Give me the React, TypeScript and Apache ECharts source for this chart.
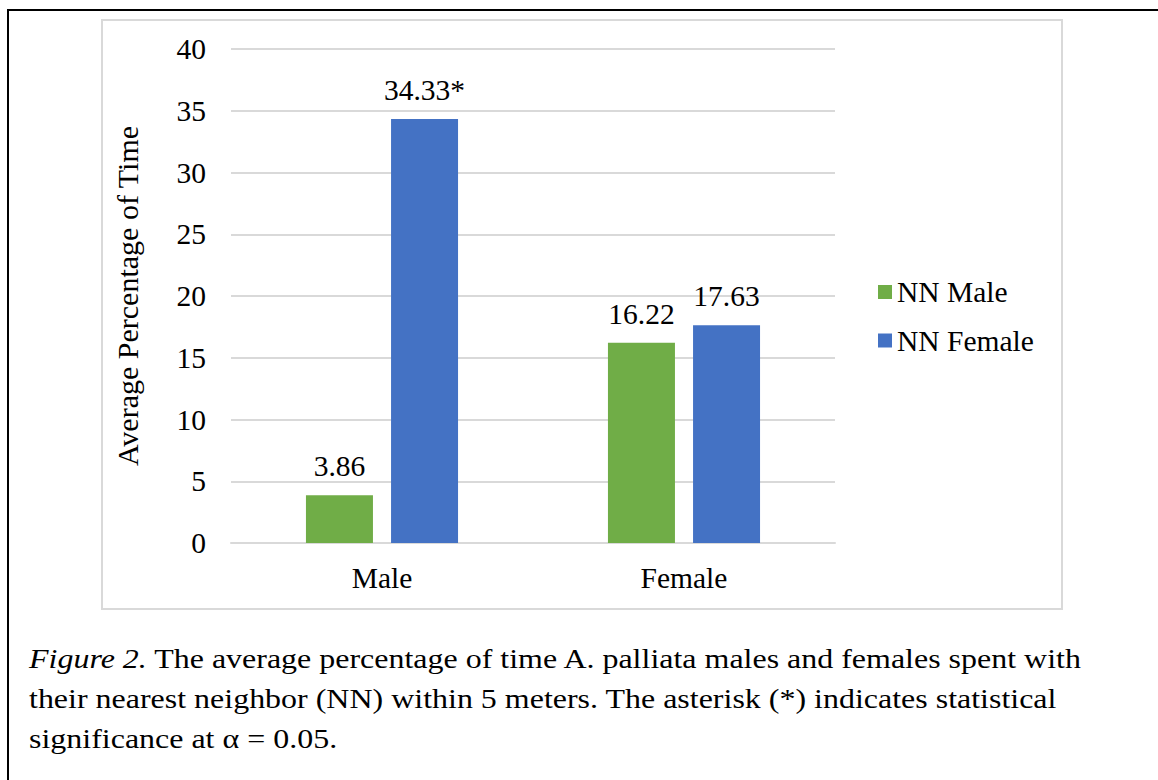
import React, { useEffect, useRef } from "react";
import * as echarts from "echarts";

const categories = ["Male", "Female"];
const nnMale = [3.86, 16.22];
const nnFemale = [34.33, 17.63];
const femaleLabels = ["34.33*", "17.63"];
const seriesNames = ["NN Male", "NN Female"];
const yTicks = { min: 0, max: 40, interval: 5 };
const captionLines = [
  "The average percentage of time A. palliata males and females spent with",
  "their nearest neighbor (NN) within 5 meters. The asterisk (*) indicates statistical",
  "significance at α = 0.05.",
];

const FONT = "'Liberation Serif', 'Times New Roman', serif";
const FS = 29.5;

export default function App() {
  const ref = useRef<HTMLDivElement>(null);
  useEffect(() => {
    if (!ref.current) return;
    const chart = echarts.init(ref.current, undefined, { renderer: "svg" });
    const capStyle = {
      fontFamily: FONT,
      fontSize: 28,
      fill: "#000",
      verticalAlign: "middle",
    };
    chart.setOption({
      animation: false,
      backgroundColor: "#ffffff",
      textStyle: { fontFamily: FONT, color: "#000" },
      grid: { left: 231, right: 323, top: 49, bottom: 237, containLabel: false },
      legend: {
        orient: "vertical",
        left: 878,
        top: 277,
        padding: 0,
        itemWidth: 14,
        itemHeight: 14,
        itemGap: 18.5,
        icon: "rect",
        textStyle: { fontFamily: FONT, fontSize: FS, color: "#000" },
        data: seriesNames,
      },
      xAxis: {
        type: "category",
        data: categories,
        axisLine: { lineStyle: { color: "#d9d9d9", width: 2 } },
        axisTick: { show: false },
        axisLabel: { fontFamily: FONT, fontSize: FS, color: "#000", margin: 20 },
      },
      yAxis: {
        type: "value",
        min: yTicks.min,
        max: yTicks.max,
        interval: yTicks.interval,
        name: "Average Percentage of Time",
        nameLocation: "middle",
        nameGap: 89,
        nameTextStyle: { fontFamily: FONT, fontSize: 30, color: "#000" },
        axisLine: { show: false },
        axisTick: { show: false },
        axisLabel: { fontFamily: FONT, fontSize: FS, color: "#000", margin: 25 },
        splitLine: { lineStyle: { color: "#d9d9d9", width: 2 } },
      },
      series: [
        {
          name: seriesNames[0],
          type: "bar",
          data: nnMale,
          barWidth: 67,
          barGap: "27%",
          itemStyle: { color: "#70ad47" },
          label: {
            show: true,
            position: "top",
            distance: 14,
            fontFamily: FONT,
            fontSize: FS,
            color: "#000",
          },
        },
        {
          name: seriesNames[1],
          type: "bar",
          data: nnFemale,
          barWidth: 67,
          barGap: "27%",
          itemStyle: { color: "#4472c4" },
          label: {
            show: true,
            position: "top",
            distance: 14,
            fontFamily: FONT,
            fontSize: FS,
            color: "#000",
            formatter: (p: any) => femaleLabels[p.dataIndex],
          },
        },
      ],
      graphic: [
        {
          type: "rect",
          shape: { x: 8, y: 10, width: 1170, height: 800 },
          style: { fill: "none", stroke: "#000", lineWidth: 2 },
          silent: true,
          z: -10,
        },
        {
          type: "rect",
          shape: { x: 102, y: 20, width: 960, height: 589 },
          style: { fill: "none", stroke: "#d9d9d9", lineWidth: 2 },
          silent: true,
          z: -10,
        },
        {
          type: "text",
          x: 29,
          y: 659,
          scaleX: 1.142,
          style: {
            ...capStyle,
            text: "{i|Figure 2.} " + captionLines[0],
            rich: { i: { fontStyle: "italic", fontFamily: FONT, fontSize: 28 } },
          },
        },
        {
          type: "text",
          x: 29,
          y: 699,
          scaleX: 1.142,
          style: { ...capStyle, text: captionLines[1] },
        },
        {
          type: "text",
          x: 29,
          y: 739,
          scaleX: 1.142,
          style: { ...capStyle, text: captionLines[2] },
        },
      ],
    });
    return () => chart.dispose();
  }, []);
  return (
    <div
      ref={ref}
      style={{ position: "fixed", left: 0, top: 0, width: 1158, height: 780 }}
    />
  );
}
